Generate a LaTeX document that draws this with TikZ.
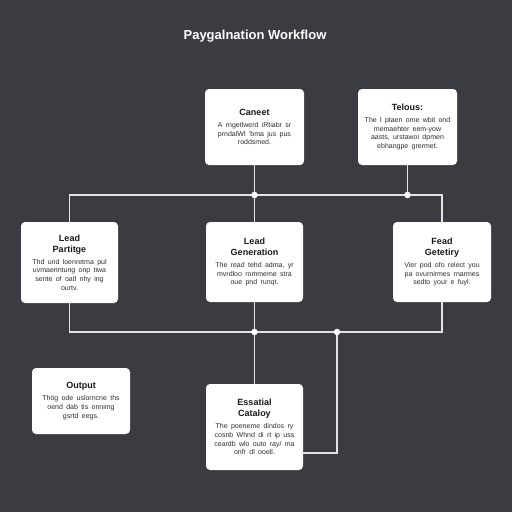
\documentclass[tikz,border=0pt]{standalone}
\usepackage{fontspec}
\setmainfont{Liberation Sans}
\definecolor{bg}{RGB}{58,60,65}
\definecolor{wire}{RGB}{228,228,228}
\definecolor{headc}{RGB}{25,25,25}
\definecolor{bodyc}{RGB}{45,45,45}
\newcommand{\cardtext}[2]{{\fontsize{9}{11}\selectfont\bfseries\color{headc}#1\par}\vspace{3.5pt}{\fontsize{7}{8.6}\selectfont\color{bodyc}#2\par}}
\tikzset{
  card/.style={draw=none, fill=white, rounded corners=4pt, inner sep=2pt, align=center, text width=#1-6pt},
  wireline/.style={draw=wire, line width=1.2pt},
  junction/.style={circle, fill=white, inner sep=0pt, minimum size=6.5pt}
}
\begin{document}
\begin{tikzpicture}[x=1pt,y=-1pt]
\fill[bg] (0,0) rectangle (512,512);
\useasboundingbox (0,0) rectangle (512,512);
\node[text=white, font=\fontsize{13}{15}\selectfont\bfseries] (title) at (255,36) {Paygalnation Workflow};

\node[card=99pt, minimum width=99pt, minimum height=76pt] (caneet) at (254.5,127) {\cardtext{Caneet}{A rngetlwerd iRtiabr sr\\ prndalWl 'bma jus pus\\ roddsmed.}};
\node[card=99pt, minimum width=99pt, minimum height=76pt] (telous) at (407.5,127) {\cardtext{Telous:}{The l ptaen ome wbit ond\\ memaehter eem-yow\\ aasts, urstawoi dpmen\\ ebhangpe grermet.}};
\node[card=97pt, minimum width=97pt, minimum height=81pt] (leadp) at (69.5,262.5) {\cardtext{Lead\\Partitge}{Thd und loenretma pul\\ uvmaenntung onp tiwa\\ sente of oatl nhy ing\\ ourtv.}};
\node[card=97pt, minimum width=97pt, minimum height=80pt] (leadg) at (254.5,262) {\cardtext{Lead\\Generation}{The read tehd adma, yr\\ mvrdloo rommeme stra\\ oue pnd runqt.}};
\node[card=98pt, minimum width=98pt, minimum height=80pt] (fead) at (442,262) {\cardtext{Fead\\Getetiry}{Vier pod ofo relect you\\ pa ovurnirmes rnarmes\\ sedto your e fuyl.}};
\node[card=98pt, minimum width=98pt, minimum height=66pt] (output) at (81,401) {\cardtext{Output}{Th\"og ode uslorncne ths\\ oend dab tis onnimg\\ gsrtd eegs.}};
\node[card=97pt, minimum width=97pt, minimum height=86pt] (ess) at (254.5,427) {\cardtext{Essatial\\Cataloy}{The poeneme dindos ry\\ cosnb Whnd di rt ip uss\\ ceardb wlo outo ray/ ma\\ onfr dl ooell.}};

% junctions
\coordinate (ub) at (0,195);
\coordinate (lb) at (0,332);
\coordinate (u1) at (caneet.south |- ub);
\coordinate (u2) at (telous.south |- ub);
\coordinate (l1) at (leadg.south |- lb);
\coordinate (l2) at (337,332);
\path (ess.east) ++(0,26) coordinate (essj);

% upper bus
\draw[wireline] (leadp.north) |- (u1) -- (u2) -| (fead.north);
\draw[wireline] (caneet.south) -- (leadg.north);
\draw[wireline] (telous.south) -- (u2);
% lower bus
\draw[wireline] (leadp.south) |- (l1) -- (l2) -| (fead.south);
\draw[wireline] (leadg.south) -- (ess.north);
\draw[wireline] (l2) |- (essj);

\node[junction] (j1) at (u1) {};
\node[junction] (j2) at (u2) {};
\node[junction] (j3) at (l1) {};
\node[junction] (j4) at (l2) {};
\end{tikzpicture}
\end{document}
